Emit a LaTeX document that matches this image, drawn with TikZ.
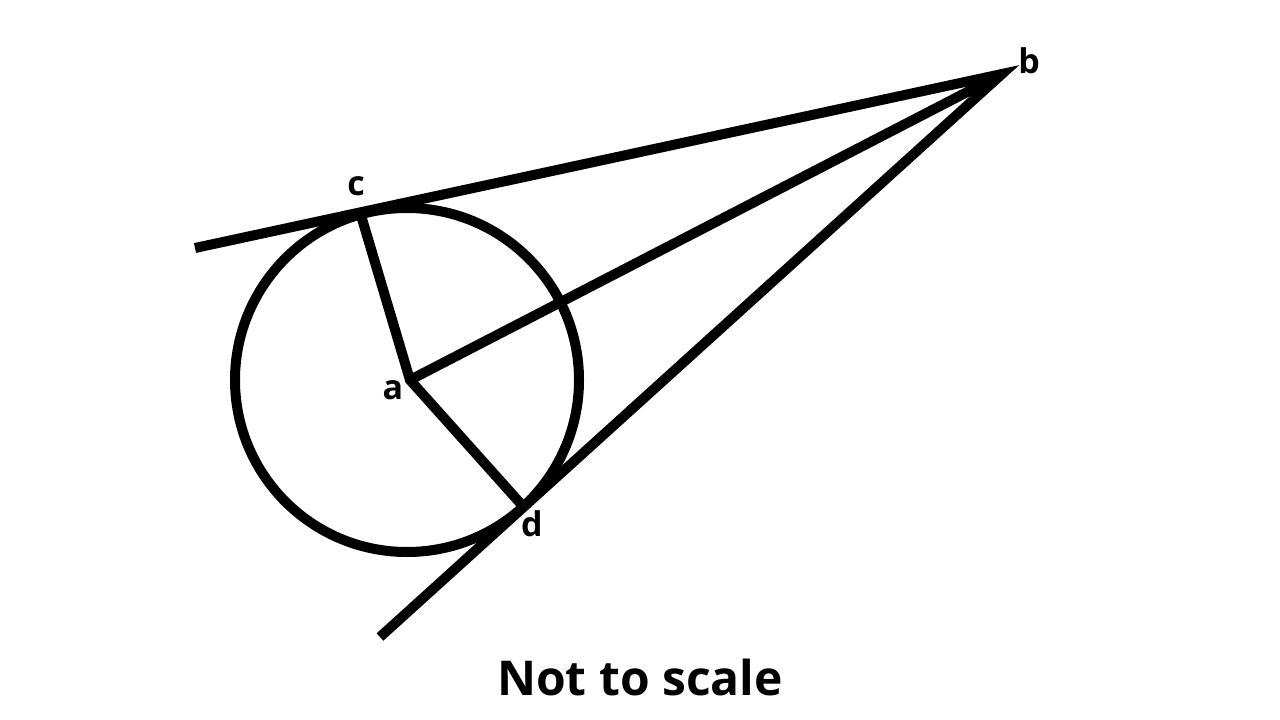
\documentclass[tikz,border=0pt]{standalone}
\usepackage{fontspec}
\setmainfont{Open Sans}[BoldFont={* Bold}]
\begin{document}
\begin{tikzpicture}[x=1pt,y=-1pt,
  geo/.style={line width=10pt,line cap=butt,line join=miter},
  lbl/.style={font=\fontsize{34}{34}\selectfont\bfseries,inner sep=0pt}]
\useasboundingbox[fill=white] (0,0) rectangle (1280,720);
\coordinate (A) at (410,380);
\coordinate (B) at (1002,74);
\coordinate (C) at (360,212);
\coordinate (D) at (521,504);
\coordinate (E) at (195,248);
\coordinate (F) at (380,637);
\draw[geo] (407,380) circle[radius=172];
\draw[geo] (E) -- (B) -- (F);
\draw[geo] (C) -- (A) -- (D);
\draw[geo] (A) -- (B);
\node[lbl] (lc) at (356,186) {c};
\node[lbl] (lb) at (1029,61) {b};
\node[lbl] (la) at (393,390) {a};
\node[lbl] (ld) at (532,524) {d};
\node[font=\fontsize{48}{48}\selectfont\bfseries,inner sep=0pt] (title) at (640,677) {Not to scale};
\end{tikzpicture}
\end{document}
